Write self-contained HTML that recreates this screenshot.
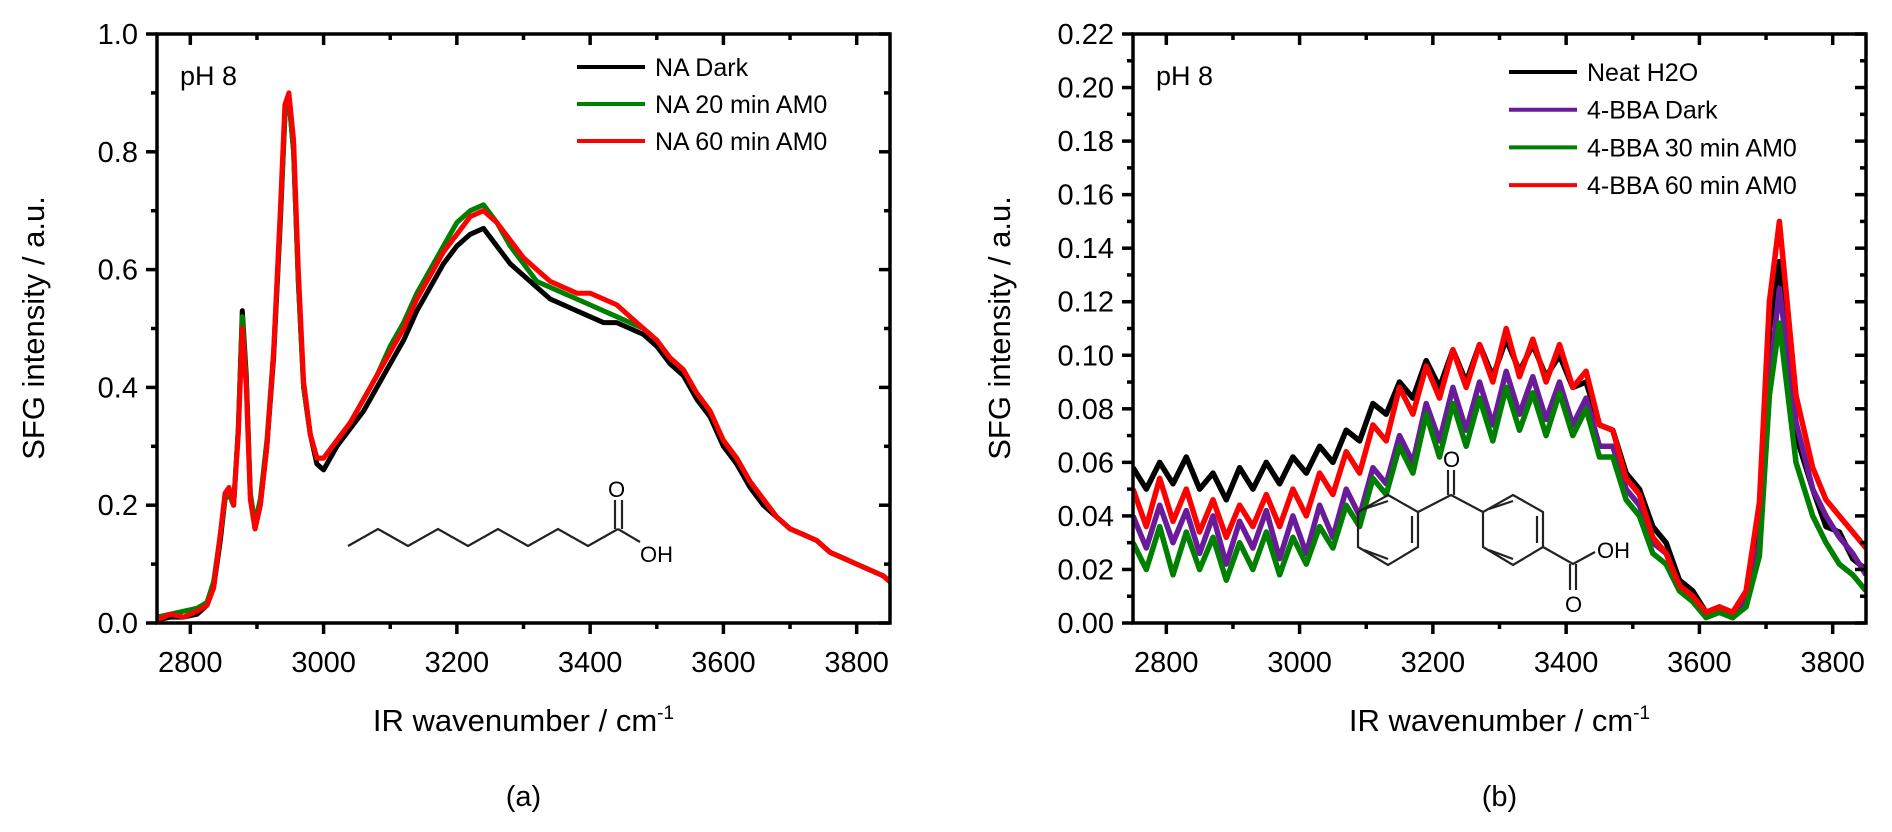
<!DOCTYPE html>
<html><head><meta charset="utf-8"><style>
html,body{margin:0;padding:0;background:#fff;}
svg{display:block;font-family:"Liberation Sans",Arial,sans-serif;}
</style></head><body>
<svg id="fig" width="1892" height="832" viewBox="0 0 1892 832" xmlns="http://www.w3.org/2000/svg">
<defs>
<clipPath id="clipA"><rect x="157" y="34" width="733" height="589"/></clipPath>
<clipPath id="clipB"><rect x="1133" y="34" width="733" height="589"/></clipPath>
</defs>
<g id="panelA"></g>
<g id="panelB"></g>
</svg>
<script>
// ---------- Panel (a) data ----------
const wnA = [2750,2770,2790,2810,2825,2835,2845,2852,2858,2865,2872,2878,2884,2890,2897,2905,2915,2925,2935,2942,2948,2955,2962,2970,2980,2990,3000,3020,3040,3060,3080,3100,3120,3140,3160,3180,3200,3220,3240,3260,3280,3300,3320,3340,3360,3380,3400,3420,3440,3460,3480,3500,3520,3540,3560,3580,3600,3620,3640,3660,3680,3700,3720,3740,3760,3780,3800,3820,3840,3850];
const naDark = [.005,.01,.01,.015,.03,.06,.14,.21,.22,.20,.33,.53,.42,.22,.16,.20,.30,.45,.68,.86,.89,.80,.58,.40,.32,.27,.26,.30,.33,.36,.40,.44,.48,.53,.57,.61,.64,.66,.67,.64,.61,.59,.57,.55,.54,.53,.52,.51,.51,.50,.49,.47,.44,.42,.38,.35,.30,.27,.23,.20,.18,.16,.15,.14,.12,.11,.10,.09,.08,.07];
const na20 = [.01,.015,.02,.025,.035,.07,.15,.21,.22,.20,.33,.52,.41,.22,.17,.21,.31,.46,.69,.86,.89,.80,.58,.40,.32,.28,.28,.31,.34,.38,.42,.47,.51,.56,.60,.64,.68,.70,.71,.68,.64,.61,.58,.57,.56,.55,.54,.53,.52,.51,.50,.48,.45,.43,.39,.36,.31,.28,.24,.21,.18,.16,.15,.14,.12,.11,.10,.09,.08,.07];
const na60 = [.005,.015,.01,.02,.03,.06,.15,.22,.23,.20,.32,.50,.40,.21,.16,.20,.30,.46,.70,.88,.90,.82,.60,.41,.32,.28,.28,.31,.34,.38,.42,.46,.50,.55,.59,.63,.66,.69,.70,.68,.65,.62,.60,.58,.57,.56,.56,.55,.54,.52,.50,.48,.45,.43,.39,.36,.31,.28,.24,.21,.18,.16,.15,.14,.12,.11,.10,.09,.08,.07];
const xTicksA = [2800,3000,3200,3400,3600,3800];
const yTicksA = [0,0.2,0.4,0.6,0.8,1.0];
const yLabelsA = ["0.0","0.2","0.4","0.6","0.8","1.0"];

// ---------- Panel (b) data ----------
const wnB = [2750,2770,2790,2810,2830,2850,2870,2890,2910,2930,2950,2970,2990,3010,3030,3050,3070,3090,3110,3130,3150,3170,3190,3210,3230,3250,3270,3290,3310,3330,3350,3370,3390,3410,3430,3450,3470,3490,3510,3530,3550,3570,3590,3610,3630,3650,3670,3690,3705,3720,3745,3770,3790,3810,3830,3850];
const neatH2O = [.058,.050,.060,.052,.062,.050,.056,.046,.058,.050,.060,.052,.062,.056,.066,.060,.072,.068,.082,.078,.090,.084,.098,.088,.102,.090,.104,.092,.106,.094,.104,.092,.100,.088,.090,.074,.072,.056,.050,.036,.030,.016,.012,.004,.006,.002,.010,.040,.110,.135,.070,.050,.036,.034,.024,.020];
const bbaDark = [.040,.028,.044,.030,.042,.026,.040,.022,.038,.028,.042,.024,.040,.026,.044,.032,.050,.040,.058,.052,.070,.060,.082,.068,.088,.072,.090,.074,.094,.078,.092,.076,.090,.074,.084,.066,.066,.050,.044,.030,.026,.014,.010,.004,.004,.002,.008,.030,.090,.125,.075,.050,.040,.032,.026,.018];
const bba30 = [.030,.020,.036,.018,.034,.020,.032,.016,.030,.020,.034,.018,.032,.022,.036,.028,.044,.036,.054,.048,.066,.056,.078,.062,.082,.066,.084,.068,.088,.072,.086,.070,.086,.070,.080,.062,.062,.046,.040,.026,.022,.012,.008,.002,.004,.002,.006,.025,.085,.112,.060,.040,.030,.022,.018,.012];
const bba60 = [.050,.036,.054,.038,.050,.034,.046,.032,.044,.036,.048,.036,.050,.040,.056,.048,.064,.056,.074,.068,.088,.078,.096,.084,.102,.088,.104,.090,.110,.092,.106,.090,.104,.088,.094,.074,.072,.054,.048,.032,.026,.014,.010,.004,.006,.004,.012,.045,.120,.150,.085,.058,.046,.040,.034,.028];
const xTicksB = [2800,3000,3200,3400,3600,3800];
const yTicksB = [0,0.02,0.04,0.06,0.08,0.10,0.12,0.14,0.16,0.18,0.20,0.22];
const yLabelsB = ["0.00","0.02","0.04","0.06","0.08","0.10","0.12","0.14","0.16","0.18","0.20","0.22"];

const NS = "http://www.w3.org/2000/svg";
function mk(parent, tag, attrs, text){
  const e = document.createElementNS(NS, tag);
  for (const k in attrs) e.setAttribute(k, attrs[k]);
  if (text !== undefined) e.textContent = text;
  parent.appendChild(e);
  return e;
}

function drawPanel(g, cfg){
  const L = cfg.left, R = cfg.left + 733, T = 34, B = 623;
  const sx = v => L + (v - 2750) / 1100 * (R - L);
  const sy = v => B - v / cfg.ymax * (B - T);

  const sg = mk(g, "g", {"clip-path": "url(#" + cfg.clip + ")"});
  
  
  cfg.series.forEach(s => {
    let d = "";
    s.vals.forEach((v, i) => { d += (i ? "L" : "M") + sx(cfg.wn[i]).toFixed(1) + "," + sy(v).toFixed(1); });
    const p = mk(sg, "path", {d: d, fill: "none", stroke: s.color, "stroke-width": cfg.sw, "stroke-linejoin": "round"});
    
    
  });

  const fr = mk(g, "rect", {x: L, y: T, width: R - L, height: B - T, fill: "none", stroke: "#000", "stroke-width": 3.5});
  
  

  for (let v = 2800; v <= 3800; v += 100){
    const major = v % 200 === 0;
    const len = major ? 11 : 6;
    const x = sx(v);
    const t1 = mk(g, "line", {x1: x, x2: x, y1: B, y2: B + len, stroke: "#000", "stroke-width": 3.5});
    
    
    const t2 = mk(g, "line", {x1: x, x2: x, y1: T, y2: T + len, stroke: "#000", "stroke-width": 3.5});
    
    
  }
  cfg.xTicks.forEach(v => {
    const t = mk(g, "text", {x: sx(v), y: B + 49, "font-size": 29, "text-anchor": "middle"}, String(v));
    
    
  });
  const step = cfg.ymax / (cfg.yTicks.length - 1) / 2;
  for (let i = 0; i <= (cfg.yTicks.length - 1) * 2; i++){
    const v = i * step;
    const len = i % 2 === 0 ? 11 : 6;
    const y = sy(v);
    const t1 = mk(g, "line", {x1: L - len, x2: L, y1: y, y2: y, stroke: "#000", "stroke-width": 3.5});
    
    
    const t2 = mk(g, "line", {x1: R - len, x2: R, y1: y, y2: y, stroke: "#000", "stroke-width": 3.5});
    
    
  }
  cfg.yTicks.forEach((v, i) => {
    const t = mk(g, "text", {x: L - 19, y: sy(v) + 10, "font-size": 29, "text-anchor": "end"}, cfg.yLabels[i]);
    
    
  });
  const cx = (L + R) / 2;
  const xt = mk(g, "text", {x: cx, y: 731, "font-size": 31, "text-anchor": "middle"});
  
  
  xt.innerHTML = 'IR wavenumber / cm<tspan dy="-12" font-size="19">-1</tspan>';
  const yt = mk(g, "text", {x: 0, y: 0, "font-size": 31, "text-anchor": "middle", transform: "translate(" + cfg.yTitleX + ",328) rotate(-90)"}, "SFG intensity / a.u.");
  
  
  const pl = mk(g, "text", {x: cx, y: 806, "font-size": 29, "text-anchor": "middle"}, cfg.panelLabel);
  
  
  const ph = mk(g, "text", {x: L + 23, y: 85, "font-size": 27}, "pH 8");
  
  

  cfg.series.forEach((s, i) => {
    const y = cfg.legY + i * cfg.legDy;
    const ln = mk(g, "line", {x1: cfg.legX, x2: cfg.legX + 68, y1: y, y2: y, stroke: s.color, "stroke-width": 4});
    
    
    const tx = mk(g, "text", {x: cfg.legX + 78, y: y + 9, "font-size": 25}, s.label);
    
    
  });
}

drawPanel(document.getElementById("panelA"), {
  left: 157, clip: "clipA", ymax: 1.0, wn: wnA, sw: 5,
  xTicks: xTicksA, yTicks: yTicksA, yLabels: yLabelsA, yTitleX: 44, panelLabel: "(a)",
  legX: 577, legY: 67, legDy: 37,
  series: [
    {name: "series-na-dark", label: "NA Dark", color: "#000000", vals: naDark},
    {name: "series-na-20min", label: "NA 20 min AM0", color: "#008000", vals: na20},
    {name: "series-na-60min", label: "NA 60 min AM0", color: "#ff0000", vals: na60}
  ]
});
drawPanel(document.getElementById("panelB"), {
  left: 1133, clip: "clipB", ymax: 0.22, wn: wnB, sw: 5.5,
  xTicks: xTicksB, yTicks: yTicksB, yLabels: yLabelsB, yTitleX: 1010, panelLabel: "(b)",
  legX: 1509, legY: 72, legDy: 37.7,
  series: [
    {name: "series-neat-h2o", label: "Neat H2O", color: "#000000", vals: neatH2O},
    {name: "series-4bba-dark", label: "4-BBA Dark", color: "#6a1b9a", vals: bbaDark},
    {name: "series-4bba-30min", label: "4-BBA 30 min AM0", color: "#008000", vals: bba30},
    {name: "series-4bba-60min", label: "4-BBA 60 min AM0", color: "#ff0000", vals: bba60}
  ]
});

const svg = document.getElementById("fig");
const molA = mk(svg, "g", {stroke: "#222", "stroke-width": 2.2, fill: "none"});


mk(molA, "polyline", {points: "348,546 378,529 408,546 438,529 468,546 498,529 528,546 558,529 588,546 618,529"});
mk(molA, "line", {x1: 615, y1: 529, x2: 615, y2: 500});
mk(molA, "line", {x1: 622, y1: 529, x2: 622, y2: 500});
mk(molA, "line", {x1: 618, y1: 529, x2: 640, y2: 542});
const oA = mk(svg, "text", {x: 608, y: 497, "font-size": 22}, "O");


const ohA = mk(svg, "text", {x: 640, y: 562, "font-size": 22}, "OH");



const molB = mk(svg, "g", {stroke: "#222", "stroke-width": 2.2, fill: "none"});


mk(molB, "polygon", {points: "1388,495 1418,512 1418,547 1388,565 1358,547 1358,512"});
mk(molB, "polygon", {points: "1513,495 1543,512 1543,547 1513,565 1483,547 1483,512"});
mk(molB, "line", {x1: 1412, y1: 516, x2: 1412, y2: 543});
mk(molB, "line", {x1: 1364, y1: 550, x2: 1388, y2: 559});
mk(molB, "line", {x1: 1364, y1: 509, x2: 1388, y2: 501});
mk(molB, "line", {x1: 1537, y1: 516, x2: 1537, y2: 543});
mk(molB, "line", {x1: 1489, y1: 550, x2: 1513, y2: 559});
mk(molB, "line", {x1: 1489, y1: 509, x2: 1513, y2: 501});
mk(molB, "polyline", {points: "1418,512 1451,495 1483,512"});
mk(molB, "line", {x1: 1448, y1: 495, x2: 1448, y2: 470});
mk(molB, "line", {x1: 1454, y1: 495, x2: 1454, y2: 470});
mk(molB, "polyline", {points: "1543,547 1573,564 1595,552"});
mk(molB, "line", {x1: 1570, y1: 564, x2: 1570, y2: 590});
mk(molB, "line", {x1: 1576, y1: 564, x2: 1576, y2: 590});
const oB1 = mk(svg, "text", {x: 1443, y: 467, "font-size": 22}, "O");


const oB2 = mk(svg, "text", {x: 1565, y: 612, "font-size": 22}, "O");


const ohB = mk(svg, "text", {x: 1597, y: 558, "font-size": 22}, "OH");


</script>
</body></html>
